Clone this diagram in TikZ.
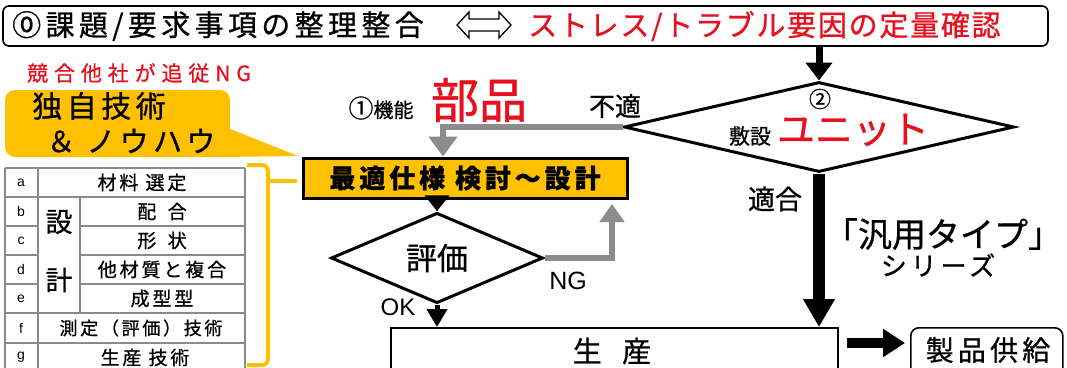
\documentclass[tikz,border=0pt]{standalone}
\usepackage{fontspec}
\setmainfont{Liberation Sans}
\newfontfamily\jp{Noto Sans CJK JP}[FakeBold=0.8]
\newfontfamily\jpt{Noto Sans CJK JP}[LetterSpace=6,FakeBold=0.8]
\newfontfamily\jps{Noto Sans CJK JP}[LetterSpace=15,FakeBold=0.8]
\newfontfamily\jpss{Noto Sans CJK JP}[LetterSpace=28,FakeBold=0.8]
\usetikzlibrary{arrows.meta,shapes.geometric}
\definecolor{jred}{HTML}{E8101E}
\definecolor{jorange}{HTML}{FFC000}
\definecolor{jgray}{HTML}{8C8C8C}
\definecolor{tgray}{HTML}{8A8A8A}
\newcommand\jfs[1]{\fontsize{#1}{#1}\selectfont}
\tikzset{
  txt/.style={inner sep=0pt},
  flowline/.style={draw=black, line width=1.6pt},
  dia/.style={diamond, draw=black, line width=3pt, inner sep=0pt},
  greyarrow/.style={draw=jgray, line width=6pt, line join=miter},
  tline/.style={draw=tgray, line width=1.1pt},
  bracketline/.style={draw=jorange, line width=4pt}
}
\begin{document}
\begin{tikzpicture}[x=1pt,y=-1pt]
\path[use as bounding box] (0,0) rectangle (1067,367);
\clip (0,0) rectangle (1067,367);
\fill[white] (0,0) rectangle (1067,367);

% top box
\node[flowline, rounded corners=6pt, minimum width=1045pt, minimum height=40pt, inner sep=0pt] (top) at (525.5,26) {};
\node[txt, anchor=west] (topL) at (12,26) {\jps\jfs{29}⓪課題/要求事項の整理整合};
\draw[line width=1.3pt, line join=miter] (457,25) -- (469,12) -- (469,19) -- (499,19) -- (499,12) -- (511,25) -- (499,38) -- (499,31) -- (469,31) -- (469,38) -- cycle;
\node[txt, anchor=west, text=jred] (topR) at (528,26) {\jpt\jfs{29}ストレス/トラブル要因の定量確認};

% diamond 2
\node[dia, minimum width=390pt, minimum height=90pt] (d2) at (819,127) {};
\node[txt] (c2) at (820,99) {\jp\jfs{22}②};
\node[txt] (shiki) at (750,136) {\jp\jfs{21}敷設};
\node[txt, text=jred] (unit) at (853,130) {\jp\jfs{38}ユニット};
\draw[line width=7pt, -{Triangle[width=26pt,length=18pt]}] (top.south -| d2.north) -- (d2.north);

% labels near part
\node[txt] (kino) at (381,108) {\jp\jfs{25}①\jfs{20}機能};
\node[txt, text=jred] (buhin) at (479,100) {\jp\jfs{48}部品};
\node[txt] (futeki) at (615,106) {\jp\jfs{26}不適};

% optimum spec box
\node[draw=black, line width=3pt, fill=jorange, minimum width=324pt, minimum height=40pt, inner sep=0pt] (opt) at (465,178) {\jps\bfseries\jfs{26}最適仕様 検討～設計};

% grey arrow 不適
\draw[greyarrow, -{Triangle[width=28pt,length=20pt]}] (d2.west) -| ([xshift=-22pt]opt.north);

% evaluation diamond
\node[dia, minimum width=212pt, minimum height=60pt] (eval) at (437,258) {\jp\jfs{31}評価};
\draw[line width=7pt, -{Triangle[width=24pt,length=16pt]}] (opt.south -| eval.north) -- (eval.north);
\coordinate (ngend) at (612,204);
\draw[greyarrow, -{Triangle[width=24pt,length=18pt]}] (eval.east) -| (ngend);
\node[txt] (ng) at (568,281) {\jfs{25}NG};
\node[txt] (ok) at (398,307) {\jfs{24}OK};

% production
\node[flowline, minimum width=447pt, minimum height=70pt, anchor=north west, inner sep=0pt] (prod) at (390,327) {};
\node[txt] (prodt) at (612,351) {\jp\jfs{29}生\hspace{0.7em}産};
\draw[line width=5pt, -{Triangle[width=20pt,length=18pt]}] (eval.south) -- (eval.south |- prod.north);
\draw[line width=12pt, -{Triangle[width=30pt,length=28pt]}] (d2.south) -- (d2.south |- prod.north);
\node[txt] (tekigo) at (775,199) {\jp\jfs{27}適合};
\node[txt] (hanyo) at (943,234) {\jp\jfs{34}「汎用タイプ」};
\node[txt] (series) at (938,265) {\jps\jfs{26}シリーズ};

% supply
\node[flowline, rounded corners=8pt, minimum width=152pt, minimum height=70pt, anchor=north west, inner sep=0pt] (supply) at (910,327) {};
\node[txt] (supplyt) at (988,350) {\jps\jfs{28}製品供給};
\draw[line width=10pt, -{Triangle[width=27pt,length=22pt]}] ([xshift=8pt,yshift=-16pt]prod.north east) -- ([xshift=-5pt,yshift=-16pt]supply.north west);

% left: competitor note and callout
\node[txt, text=jred] (kyogo) at (139,73) {\jpss\jfs{21}競合他社が追従NG};
\fill[jorange] (220,125) -- (298,156) -- (220,157) -- cycle;
\fill[jorange, rounded corners=10pt] (5,90) rectangle (230,157);
\node[txt] (dokuji) at (99,106) {\jps\jfs{30}独自技術};
\node[txt] (knowhow) at (131,141) {\jps\jfs{29}＆ ノウハウ};

% table
\draw[tline] (5,168) -- (245,168);
\draw[tline] (5,168) -- (5,372);
\draw[tline] (245,168) -- (245,372);
\draw[tline] (38,168) -- (38,372);
\draw[tline] (80,197) -- (80,313);
\draw[tline] (5,197) -- (245,197);
\draw[tline] (5,313) -- (245,313);
\draw[tline] (5,343) -- (245,343);
\foreach \yy in {226,255,284} {
  \draw[tline] (5,\yy) -- (38,\yy);
  \draw[tline] (80,\yy) -- (245,\yy);
}
\node[txt] (la) at (21,182.5) {\jfs{14}a};
\node[txt] (lb) at (21,211.5) {\jfs{14}b};
\node[txt] (lc) at (21,240.5) {\jfs{14}c};
\node[txt] (ld) at (21,269.5) {\jfs{14}d};
\node[txt] (le) at (21,298.5) {\jfs{14}e};
\node[txt] (lf) at (21,328) {\jfs{14}f};
\node[txt] (lg) at (21,357.5) {\jfs{14}g};
\node[txt] (ra) at (142,182.5) {\jps\jfs{19}材料 選定};
\node[txt] (rb) at (162,211.5) {\jps\jfs{19}配\hspace{0.6em}合};
\node[txt] (rc) at (162,240.5) {\jps\jfs{19}形\hspace{0.6em}状};
\node[txt] (rd) at (162,269.5) {\jps\jfs{19}他材質と複合};
\node[txt] (re) at (162,298.5) {\jps\jfs{19}成型型};
\node[txt] (rf) at (141,328) {\jps\jfs{18}測定（評価）技術};
\node[txt] (rg) at (145,357.5) {\jps\jfs{19}生産 技術};
\node[txt] (setsu) at (59,222) {\jp\jfs{27}設};
\node[txt] (kei) at (59,280) {\jp\jfs{27}計};

% orange bracket
\draw[bracketline, rounded corners=6pt] (247,165) -- (268,165) -- (268,365) -- (247,365);
\draw[bracketline] (268,181) -- (297,181);
\end{tikzpicture}
\end{document}
